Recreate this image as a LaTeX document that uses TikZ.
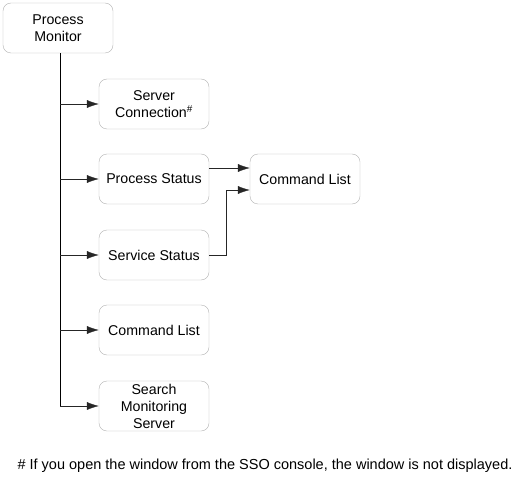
\documentclass[tikz,border=0pt]{standalone}
\usepackage{fontspec}
\setmainfont{Liberation Sans}
\usetikzlibrary{arrows.meta}
\begin{document}
\begin{tikzpicture}[x=1pt,y=-1pt,
    box/.style={draw=black!30,rounded corners=8pt,minimum width=110pt,minimum height=50pt,
      inner sep=0pt,align=center,font=\fontsize{14.2}{17}\selectfont},
    link/.style={draw=black!85,-{Latex[length=12pt,width=8pt]}}]
      \useasboundingbox (0,0) rectangle (513,481);
      \def \Nodes{
        pm/58/28/{Process\\Monitor},
        sc/154/104/{Server\\Connection\textsuperscript{\#}},
        ps/154/179/{Process Status},
        cr/305/179/{Command List},
        ss/154/255/{Service Status},
        cl/154/330/{Command List},
        sm/154/406/{Search\\Monitoring\\Server}}
      \def \Edges{
        sc, ps, ss, cl, sm}
      \foreach \id / \x / \y / \txt in \Nodes{
        \node[box] (\id) at (\x, \y) {\txt};
      }
      \coordinate (trunk) at (60, 406);
      \path[draw,black] (pm.south -| trunk) -- (trunk);
      \foreach \y in \Edges{
        \path[link] (trunk |- \y.west) -- (\y.west);
      }
      \path[link] ([yshift=11pt]ps.east) -- ([yshift=11pt]ps.east -| cr.west);
      \path[link] (ss.east) -- ++(17,0) |- ([yshift=-11pt]cr.west);
      \node[font=\fontsize{14.5}{17}\selectfont] (note) at (265, 466)
        {\# If you open the window from the SSO console, the window is not displayed.};
\end{tikzpicture}
\end{document}
